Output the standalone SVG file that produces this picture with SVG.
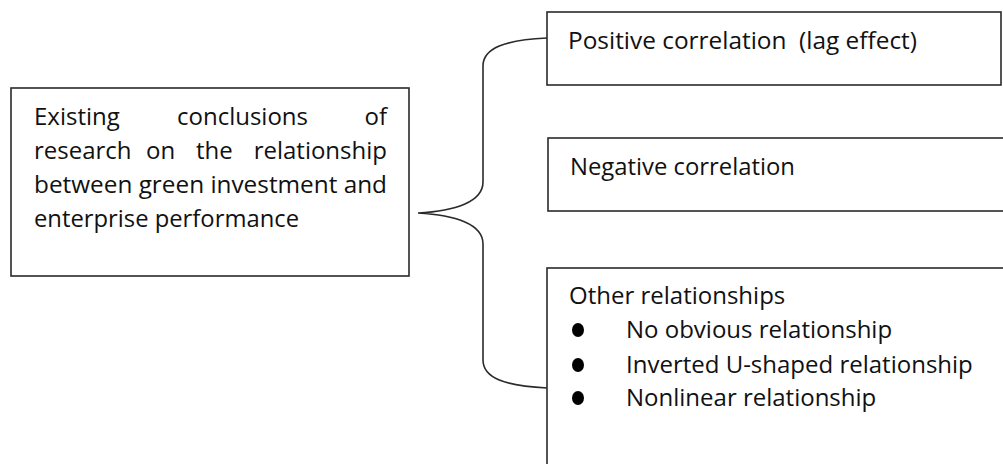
<svg xmlns="http://www.w3.org/2000/svg" width="1003" height="464" viewBox="0 0 1003 464">
<style>
.box{fill:#fff;stroke:#2a2a2a;stroke-width:1.6}
.t{font-family:"Open Sans","Noto Sans",sans-serif;font-size:24px;fill:#111}
.conn{fill:none;stroke:#2a2a2a;stroke-width:1.6}
.dot{fill:#000}
</style>
<rect width="1003" height="464" fill="#fff"/>
<g id="connectors">
<path class="conn" d="M547,38 C505,40 483,48 483,66 L483,182 C483,202 455,211 418,213 C455,215 483,224 483,244 L483,360 C483,378 505,386 547,388"/>
</g>
<g id="source">
<rect class="box" x="11" y="88" width="398" height="188"/>
<text class="t" x="34" y="125">Existing</text>
<text class="t" x="177" y="125">conclusions</text>
<text class="t" x="387" y="125" text-anchor="end">of</text>
<text class="t" x="34" y="159">research</text>
<text class="t" x="146" y="159">on</text>
<text class="t" x="196" y="159">the</text>
<text class="t" x="387" y="159" text-anchor="end">relationship</text>
<text class="t" x="34" y="193" textLength="353" lengthAdjust="spacingAndGlyphs">between green investment and</text>
<text class="t" x="34" y="227" textLength="265" lengthAdjust="spacingAndGlyphs">enterprise performance</text>
</g>
<g id="positive">
<rect class="box" x="547" y="12" width="454" height="73"/>
<text class="t" x="568" y="49" xml:space="preserve" textLength="349" lengthAdjust="spacingAndGlyphs">Positive correlation  (lag effect)</text>
</g>
<g id="negative">
<rect class="box" x="548" y="138" width="470" height="73"/>
<text class="t" x="570" y="175" textLength="225" lengthAdjust="spacingAndGlyphs">Negative correlation</text>
</g>
<g id="other">
<rect class="box" x="547" y="268" width="470" height="210"/>
<text class="t" x="569" y="304">Other relationships</text>
<ellipse class="dot" cx="578" cy="330" rx="6" ry="7"/>
<text class="t" x="626" y="338">No obvious relationship</text>
<ellipse class="dot" cx="578" cy="365" rx="6" ry="7"/>
<text class="t" x="626" y="373">Inverted U-shaped relationship</text>
<ellipse class="dot" cx="578" cy="398" rx="6" ry="7"/>
<text class="t" x="626" y="406">Nonlinear relationship</text>
</g>
</svg>
